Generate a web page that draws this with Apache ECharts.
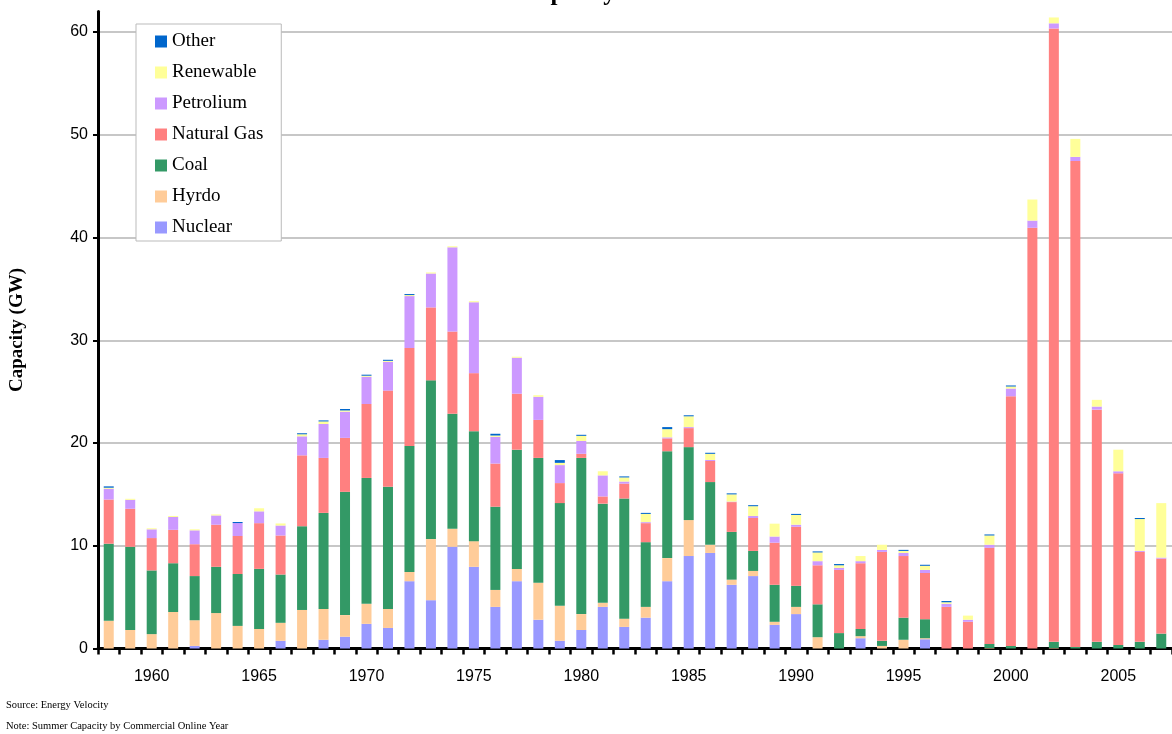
<!DOCTYPE html>
<html><head><meta charset="utf-8">
<script src="https://cdn.jsdelivr.net/npm/echarts@6/dist/echarts.min.js"></script>
<style>html,body{margin:0;padding:0;background:#fff}#c{width:1172px;height:734px}</style>
</head><body><div id="c"></div>
<script>
const years = ['1958','1959','1960','1961','1962','1963','1964','1965','1966','1967',
  '1968','1969','1970','1971','1972','1973','1974','1975','1976','1977',
  '1978','1979','1980','1981','1982','1983','1984','1985','1986','1987',
  '1988','1989','1990','1991','1992','1993','1994','1995','1996','1997',
  '1998','1999','2000','2001','2002','2003','2004','2005','2006','2007'];

const nuclear = [0,0,0,0,0.25,0,0,0,0.75,0,
  0.85,1.15,2.4,2.0,6.55,4.7,9.9,7.95,4.05,6.55,
  2.8,0.75,1.8,4.05,2.1,3.0,6.55,9.0,9.3,6.2,
  7.05,2.3,3.35,0,0,1.0,0,0,0.9,0,
  0,0,0,0,0,0,0,0,0,0];
const hydro = [2.7,1.8,1.4,3.55,2.5,3.45,2.2,1.9,1.75,3.75,
  3.0,2.1,1.95,1.85,0.9,5.95,1.75,2.5,1.65,1.2,
  3.6,3.4,1.55,0.4,0.8,1.05,2.25,3.5,0.8,0.5,
  0.5,0.3,0.7,1.1,0,0.2,0.25,0.85,0.1,0,
  0,0.05,0,0,0.05,0,0,0,0,0];
const coal = [7.5,8.1,6.2,4.75,4.3,4.5,5.05,5.85,4.7,8.15,
  9.35,12.0,12.25,11.9,12.25,15.45,11.2,10.7,8.1,11.6,
  12.15,10.0,15.2,9.65,11.7,6.3,10.4,7.1,6.1,4.65,
  1.95,3.6,2.05,3.2,1.5,0.7,0.5,2.15,1.85,0,
  0,0.4,0.25,0,0.6,0.15,0.65,0.35,0.65,1.45];
const naturalGas = [4.3,3.7,3.15,3.25,3.1,4.1,3.7,4.45,3.8,6.9,
  5.35,5.25,7.2,9.35,9.55,7.1,8.0,5.65,4.2,5.45,
  3.7,1.95,0.4,0.7,1.45,1.85,1.25,1.85,2.05,2.9,
  3.2,4.1,5.75,3.8,6.15,6.4,8.65,6.0,4.5,4.05,
  2.6,9.35,24.3,40.95,59.7,47.3,22.6,16.7,8.75,7.3];
const petroleum = [1.05,0.87,0.85,1.25,1.35,0.9,1.26,1.15,0.97,1.85,
  3.3,2.55,2.65,2.8,5.05,3.3,8.2,6.9,2.6,3.5,
  2.25,1.75,1.25,2.05,0.2,0.1,0.1,0.1,0.1,0.05,
  0.2,0.6,0.2,0.4,0.2,0.2,0.2,0.3,0.3,0.3,
  0.2,0.3,0.75,0.7,0.5,0.4,0.3,0.2,0.1,0.1];
const renewable = [0.1,0.1,0.1,0.1,0.1,0.1,0,0.3,0.2,0.2,
  0.25,0.12,0.1,0.1,0.1,0.1,0.1,0.1,0.13,0.1,
  0.15,0.22,0.5,0.4,0.4,0.8,0.8,1.05,0.6,0.7,
  0.95,1.25,0.95,0.85,0.25,0.5,0.5,0.2,0.4,0.15,
  0.4,0.9,0.2,2.05,0.57,1.75,0.65,2.1,3.1,5.3];
const other = [0.13,0,0,0,0,0,0.1,0,0,0.1,
  0.1,0.14,0.1,0.1,0.1,0,0,0,0.17,0,
  0,0.27,0.1,0,0.1,0.1,0.2,0.1,0.1,0.1,
  0.1,0,0.1,0.1,0.12,0,0,0.1,0.1,0.12,
  0,0.1,0.1,0,0,0,0,0,0.1,0];

const yTicks = [0,10,20,30,40,50,60];
const legendOrder = ['Other','Renewable','Petrolium','Natural Gas','Coal','Hyrdo','Nuclear'];

const seriesDefs = [
  {name:'Nuclear', data:nuclear, color:'#9999FF'},
  {name:'Hyrdo', data:hydro, color:'#FFCC99'},
  {name:'Coal', data:coal, color:'#339966'},
  {name:'Natural Gas', data:naturalGas, color:'#FF8080'},
  {name:'Petrolium', data:petroleum, color:'#CC99FF'},
  {name:'Renewable', data:renewable, color:'#FFFF99'},
  {name:'Other', data:other, color:'#0066CC'}
];

const chart = echarts.init(document.getElementById('c'), null, {renderer:'canvas'});
const serif = "'Liberation Serif','Times New Roman',serif";
const sans = "'Liberation Sans',Arial,sans-serif";
const gridGray = '#b4b4b4';

chart.setOption({
  animation:false,
  backgroundColor:'#fff',
  grid:{left:96, top:11.5, width:1086, height:637, containLabel:false},
  legend:{
    data:legendOrder, orient:'vertical', left:136, top:24,
    backgroundColor:'#fff', borderColor:'#bbb', borderWidth:1,
    padding:[8,18,4,19], itemWidth:12, itemHeight:12, itemGap:12,
    icon:'rect',
    textStyle:{fontFamily:serif, fontSize:19, color:'#000', lineHeight:19}
  },
  xAxis:{
    type:'category', data:years, boundaryGap:true,
    axisLine:{lineStyle:{color:'#000', width:3}},
    axisTick:{show:true, interval:0, length:6, lineStyle:{color:'#000', width:2.5}},
    axisLabel:{interval:(i,v)=>Number(v)%5===0, fontFamily:sans, fontSize:16, color:'#000', margin:20},
    splitLine:{show:false}
  },
  yAxis:{
    type:'value', min:0, max:62, interval:10,
    name:'Capacity (GW)', nameLocation:'middle', nameGap:71,
    nameTextStyle:{fontFamily:serif, fontSize:19, fontWeight:'bold', color:'#000'},
    axisLine:{show:true, lineStyle:{color:'#000', width:3}},
    axisTick:{show:true, length:5, customValues:yTicks, lineStyle:{color:'#000', width:2}},
    axisLabel:{customValues:yTicks, formatter:v=>(v%10===0?String(v):''), fontFamily:sans, fontSize:16, color:'#000', margin:10},
    splitLine:{show:true, lineStyle:{color:[gridGray,gridGray,gridGray,gridGray,gridGray,gridGray,gridGray,'rgba(0,0,0,0)'], width:1.5}}
  },
  series: seriesDefs.map(s=>({
    name:s.name, type:'bar', stack:'cap', data:s.data, barWidth:10,
    itemStyle:{color:s.color}, emphasis:{disabled:true}
  })),
  graphic:[
    {type:'text', left:520, top:-19, style:{text:'Capacity Additions', font:"bold 25px "+serif, fill:'#000'}},
    {type:'text', left:6, top:700, style:{text:'Source: Energy Velocity', font:"10.5px "+serif, fill:'#000'}},
    {type:'text', left:6, top:721, style:{text:'Note: Summer Capacity by Commercial Online Year', font:"10.5px "+serif, fill:'#000'}}
  ]
});
</script></body></html>
